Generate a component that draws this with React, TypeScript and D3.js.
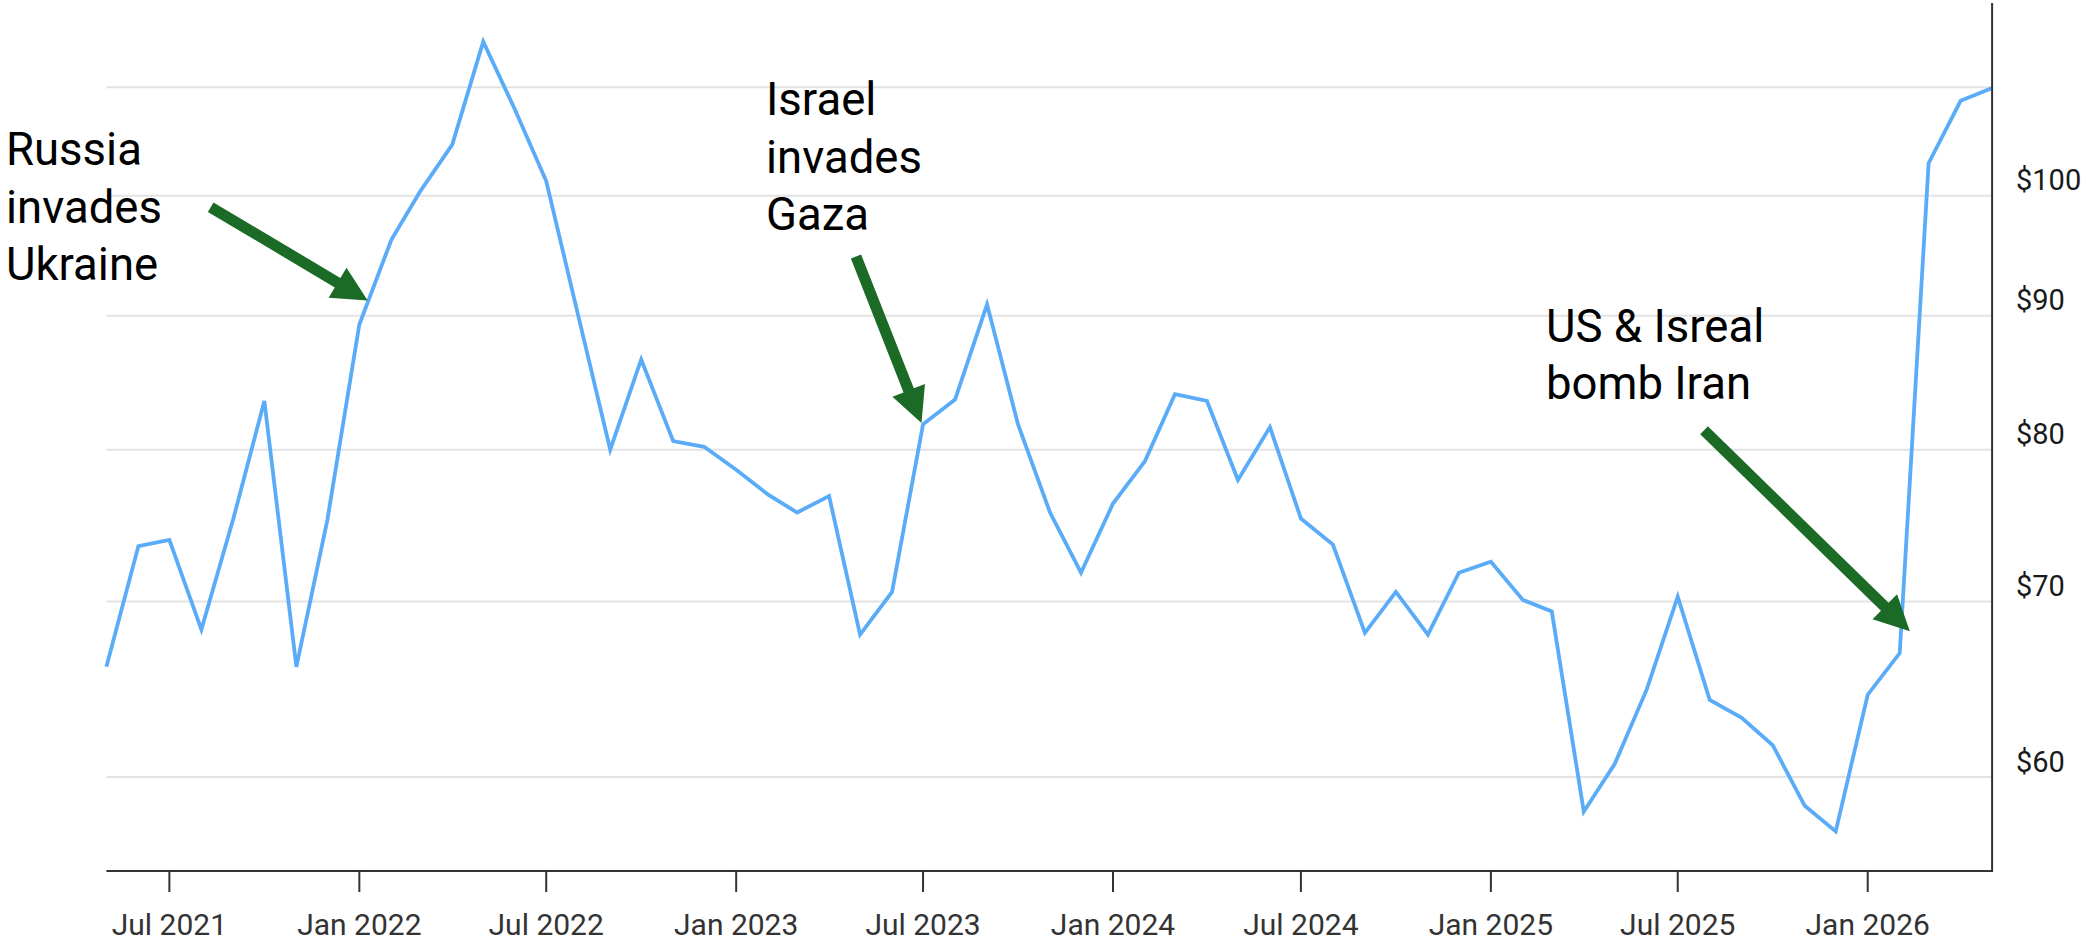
import React from "react";
import * as d3 from "d3";

// Monthly price series, starting May 2021 and ending May 2026
const startMonth = "2021-05";
const prices: number[] = [
  66.1, 73.5, 73.9, 68.3, 75.3, 83.5, 66.1, 75.2, // May 2021 – Dec 2021
  89.3, 96.2, 100.4, 104.6, 114.5, 107.8, 101.3, 90.0, 80.0, 86.6, 80.6, 80.2, // 2022
  78.6, 76.9, 75.7, 76.8, 68.0, 70.6, 81.8, 83.6, 90.9, 81.8, 75.7, 71.8, // 2023
  76.3, 79.2, 84.0, 83.5, 77.9, 81.6, 75.3, 73.6, 68.1, 70.6, 68.0, 71.8, // 2024
  72.5, 70.1, 69.4, 58.2, 60.7, 64.8, 70.3, 64.2, 63.2, 61.7, 58.5, 57.2, // 2025
  64.5, 66.9, 102.9, 108.7, 109.9, // 2026
];

const xTickLabels = [
  "Jul 2021", "Jan 2022", "Jul 2022", "Jan 2023", "Jul 2023",
  "Jan 2024", "Jul 2024", "Jan 2025", "Jul 2025", "Jan 2026",
];
const gridValues = [60, 70, 80, 90, 100, 110];
const yTickValues = [60, 70, 80, 90, 100];
const yTickLabels = ["$60", "$70", "$80", "$90", "$100"];

// Annotations: arrow tip anchored on the data (month index, value)
const annotationLines = [
  ["Russia", "invades", "Ukraine"],
  ["Israel", "invades", "Gaza"],
  ["US & Isreal", "bomb Iran"],
];
const annotationTipMonth = [8.26, 25.95, 57.35];
const annotationTipValue = [91.2, 81.9, 68.2];

const W = 2086;
const H = 942;
const left = 106.4;
const right = 1991.6;
const axisY = 871;
const axisTop = 3;

export default function App() {
  const parseMonth = d3.timeParse("%Y-%m");
  const start = parseMonth(startMonth) as Date;
  const dates = prices.map((_, i) => d3.timeMonth.offset(start, i));
  const data = dates.map((d, i) => ({ date: d, value: prices[i] }));

  const x = d3
    .scaleTime()
    .domain([dates[0], dates[dates.length - 1]])
    .range([left, right]);
  const y = d3.scaleLog().domain([60, 110]).range([777, 87.3]);

  const line = d3
    .line<{ date: Date; value: number }>()
    .x((d) => x(d.date))
    .y((d) => y(d.value));

  const parseTick = d3.timeParse("%b %Y");
  const xTicks = xTickLabels.map((l) => ({ label: l, date: parseTick(l) as Date }));

  const monthToX = (m: number) => {
    const base = Math.floor(m);
    const frac = m - base;
    const d0 = d3.timeMonth.offset(start, base);
    const d1 = d3.timeMonth.offset(start, base + 1);
    return x(d0) + (x(d1) - x(d0)) * frac;
  };

  // Layout offsets of annotation parts relative to the arrow tip (px)
  const tailOffsets = [
    [-157, -93.4],
    [-65.5, -166.5],
    [-205.8, -201],
  ];
  const textPos = [
    [6, 165],
    [766, 115],
    [1546, 341.7],
  ];
  const lineGap = 57.5;

  const arrowPath = (tx: number, ty: number, sx: number, sy: number) => {
    const dx = tx - sx;
    const dy = ty - sy;
    const len = Math.hypot(dx, dy);
    const ux = dx / len;
    const uy = dy / len;
    const nx = -uy;
    const ny = ux;
    const shaft = 11 / 2;
    const head = 35 / 2;
    const hl = 35;
    const bx = tx - ux * hl;
    const by = ty - uy * hl;
    const pts = [
      [sx + nx * shaft, sy + ny * shaft],
      [bx + nx * shaft, by + ny * shaft],
      [bx + nx * head, by + ny * head],
      [tx, ty],
      [bx - nx * head, by - ny * head],
      [bx - nx * shaft, by - ny * shaft],
      [sx - nx * shaft, sy - ny * shaft],
    ];
    return "M" + pts.map((p) => p[0].toFixed(2) + "," + p[1].toFixed(2)).join("L") + "Z";
  };

  return (
    <svg
      width={W}
      height={H}
      style={{ position: "absolute", left: 0, top: 0, background: "#fff" }}
    >
      <rect x={0} y={0} width={W} height={H} fill="#ffffff" />
      {/* gridlines */}
      {gridValues.map((v) => (
        <line
          key={"g" + v}
          x1={left}
          x2={right}
          y1={y(v)}
          y2={y(v)}
          stroke="#e3e3e3"
          strokeWidth={2}
        />
      ))}
      {/* data line */}
      <path
        d={line(data) || ""}
        fill="none"
        stroke="#5aacf8"
        strokeWidth={3.8}
        strokeLinejoin="miter"
      />
      {/* x axis */}
      <line x1={left} x2={right + 1} y1={axisY} y2={axisY} stroke="#333" strokeWidth={2} />
      {xTicks.map((t) => (
        <g key={t.label} transform={`translate(${x(t.date)},0)`}>
          <line y1={axisY} y2={axisY + 21} stroke="#333" strokeWidth={2} />
          <text
            y={935}
            textAnchor="middle"
            fontFamily="Roboto"
            fontSize={30}
            fill="#333"
          >
            {t.label}
          </text>
        </g>
      ))}
      {/* right y axis */}
      <line x1={right + 0.5} x2={right + 0.5} y1={axisTop} y2={axisY + 1} stroke="#333" strokeWidth={2} />
      {yTickValues.map((v, i) => (
        <text
          key={"y" + v}
          x={2016}
          y={y(v) - 5.5}
          fontFamily="Roboto"
          fontSize={29}
          fill="#1a1a1a"
        >
          {yTickLabels[i]}
        </text>
      ))}
      {/* annotations */}
      {annotationLines.map((lines, k) => {
        const tx = monthToX(annotationTipMonth[k]);
        const ty = y(annotationTipValue[k]);
        const sx = tx + tailOffsets[k][0];
        const sy = ty + tailOffsets[k][1];
        return (
          <g key={"a" + k}>
            <path d={arrowPath(tx, ty, sx, sy)} fill="#1b6a25" />
            <text fontFamily="Roboto" fontSize={45.5} fill="#000">
              {lines.map((l, j) => (
                <tspan key={j} x={textPos[k][0]} y={textPos[k][1] + j * lineGap}>
                  {l}
                </tspan>
              ))}
            </text>
          </g>
        );
      })}
    </svg>
  );
}
